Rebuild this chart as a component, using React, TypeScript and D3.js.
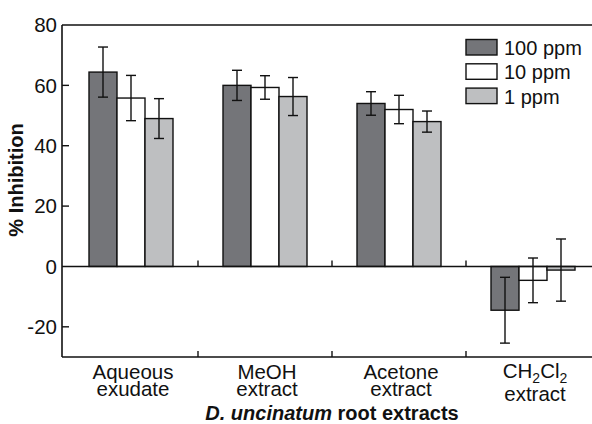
import React from "react";
import * as d3 from "d3";

const categories = ["Aqueous|exudate", "MeOH|extract", "Acetone|extract", "CH2Cl2|extract"];
const seriesNames = ["100 ppm", "10 ppm", "1 ppm"];
const seriesColors = ["#747579", "#ffffff", "#bebfc1"];
const values100 = [64.4, 60.0, 54.0, -14.5];
const errors100 = [8.3, 5.0, 3.9, 10.9];
const values10 = [55.8, 59.3, 52.0, -4.6];
const errors10 = [7.5, 3.9, 4.7, 7.4];
const values1 = [49.0, 56.3, 48.0, -1.2];
const errors1 = [6.6, 6.3, 3.5, 10.3];
const yTicks = [80, 60, 40, 20, 0, -20];

const W = 592;
const H = 424;
const FONT = "'Liberation Sans', Arial, Helvetica, sans-serif";

export default function App() {
  const y = d3.scaleLinear().domain([-30, 80]).range([357, 25]);
  const x = d3.scaleBand().domain(categories).range([64, 600]).paddingInner(0).paddingOuter(0);
  const axisX = 62;
  const groupW = 84;
  const xi = d3.scaleBand().domain(seriesNames).range([0, groupW]);
  const vals = [values100, values10, values1];
  const errs = [errors100, errors10, errors1];
  const y0 = y(0);

  const bars: React.ReactNode[] = [];
  const errBars: React.ReactNode[] = [];
  categories.forEach((c, ci) => {
    const gx = (x(c) as number) + x.bandwidth() / 2 - groupW / 2;
    seriesNames.forEach((s, si) => {
      const v = vals[si][ci];
      const e = errs[si][ci];
      const bx = gx + (xi(s) as number);
      const bw = xi.bandwidth();
      bars.push(
        <rect key={`b${ci}-${si}`} x={bx} y={Math.min(y(v), y0)} width={bw}
          height={Math.abs(y(v) - y0)} fill={seriesColors[si]} stroke="#111" strokeWidth={1.4} />
      );
      const cx = bx + bw / 2;
      errBars.push(
        <g key={`e${ci}-${si}`} stroke="#111" strokeWidth={1.4}>
          <line x1={cx} x2={cx} y1={y(v + e)} y2={y(v - e)} />
          <line x1={cx - 5} x2={cx + 5} y1={y(v + e)} y2={y(v + e)} />
          <line x1={cx - 5} x2={cx + 5} y1={y(v - e)} y2={y(v - e)} />
        </g>
      );
    });
  });

  const catTicks = categories.slice(1).map((c) => x(c) as number);

  const renderLabel = (c: string, i: number) => {
    const [l1, l2] = c.split("|");
    const cx = (x(c) as number) + x.bandwidth() / 2 + 2;
    const first =
      l1 === "CH2Cl2" ? (
        <text x={cx} y={378} textAnchor="middle">
          <tspan>CH</tspan>
          <tspan dy={5} fontSize={14}>2</tspan>
          <tspan dy={-5}>Cl</tspan>
          <tspan dy={5} fontSize={14}>2</tspan>
        </text>
      ) : (
        <text x={cx} y={379} textAnchor="middle">{l1}</text>
      );
    return (
      <g key={`l${i}`}>
        {first}
        <text x={cx} y={l1 === "CH2Cl2" ? 401 : 396} textAnchor="middle">{l2}</text>
      </g>
    );
  };

  return (
    <svg width={W} height={H} style={{ position: "absolute", left: 0, top: 0, background: "#fff" }}
      fontFamily={FONT}>
      <rect x={0} y={0} width={W} height={H} fill="#fff" />
      {bars}
      {errBars}
      {/* frame */}
      <g stroke="#111" strokeWidth={1.6} fill="none">
        <line x1={axisX} x2={W} y1={y(80)} y2={y(80)} />
        <line x1={axisX} x2={axisX} y1={y(80)} y2={y(-30)} />
        <line x1={axisX} x2={W} y1={y(-30)} y2={y(-30)} />
        <line x1={axisX} x2={W} y1={y0} y2={y0} />
      </g>
      {/* y ticks */}
      <g stroke="#111" strokeWidth={1.4}>
        {yTicks.filter((t) => t !== 80 && t !== 0).map((t) => (
          <line key={`yt${t}`} x1={axisX} x2={axisX + 7} y1={y(t)} y2={y(t)} />
        ))}
        {catTicks.map((tx, i) => (
          <g key={`ct${i}`}>
            <line x1={tx} x2={tx} y1={y0} y2={y0 - 6} />
            <line x1={tx} x2={tx} y1={y(-30)} y2={y(-30) - 6} />
          </g>
        ))}
      </g>
      <g fontSize={20.5} fill="#111">
        {yTicks.map((t) => (
          <text key={`yl${t}`} x={57} y={y(t)} dy="0.36em" textAnchor="end">{t}</text>
        ))}
        {categories.map(renderLabel)}
      </g>
      <text transform={`translate(23,180) rotate(-90)`} textAnchor="middle" fontSize={20}
        fontWeight="bold" fill="#111">% Inhibition</text>
      <text x={332} y={420} textAnchor="middle" fontSize={20} fontWeight="bold" fill="#111">
        <tspan fontStyle="italic">D. uncinatum</tspan> root extracts
      </text>
      {/* legend */}
      <g>
        {seriesNames.map((s, i) => (
          <g key={`lg${i}`} transform={`translate(466,${39.5 + i * 24.3})`}>
            <rect x={0} y={0} width={31} height={15.5} fill={seriesColors[i]} stroke="#111" strokeWidth={1.4} />
            <text x={38} y={15.5} fontSize={20} fill="#111">{s}</text>
          </g>
        ))}
      </g>
    </svg>
  );
}
